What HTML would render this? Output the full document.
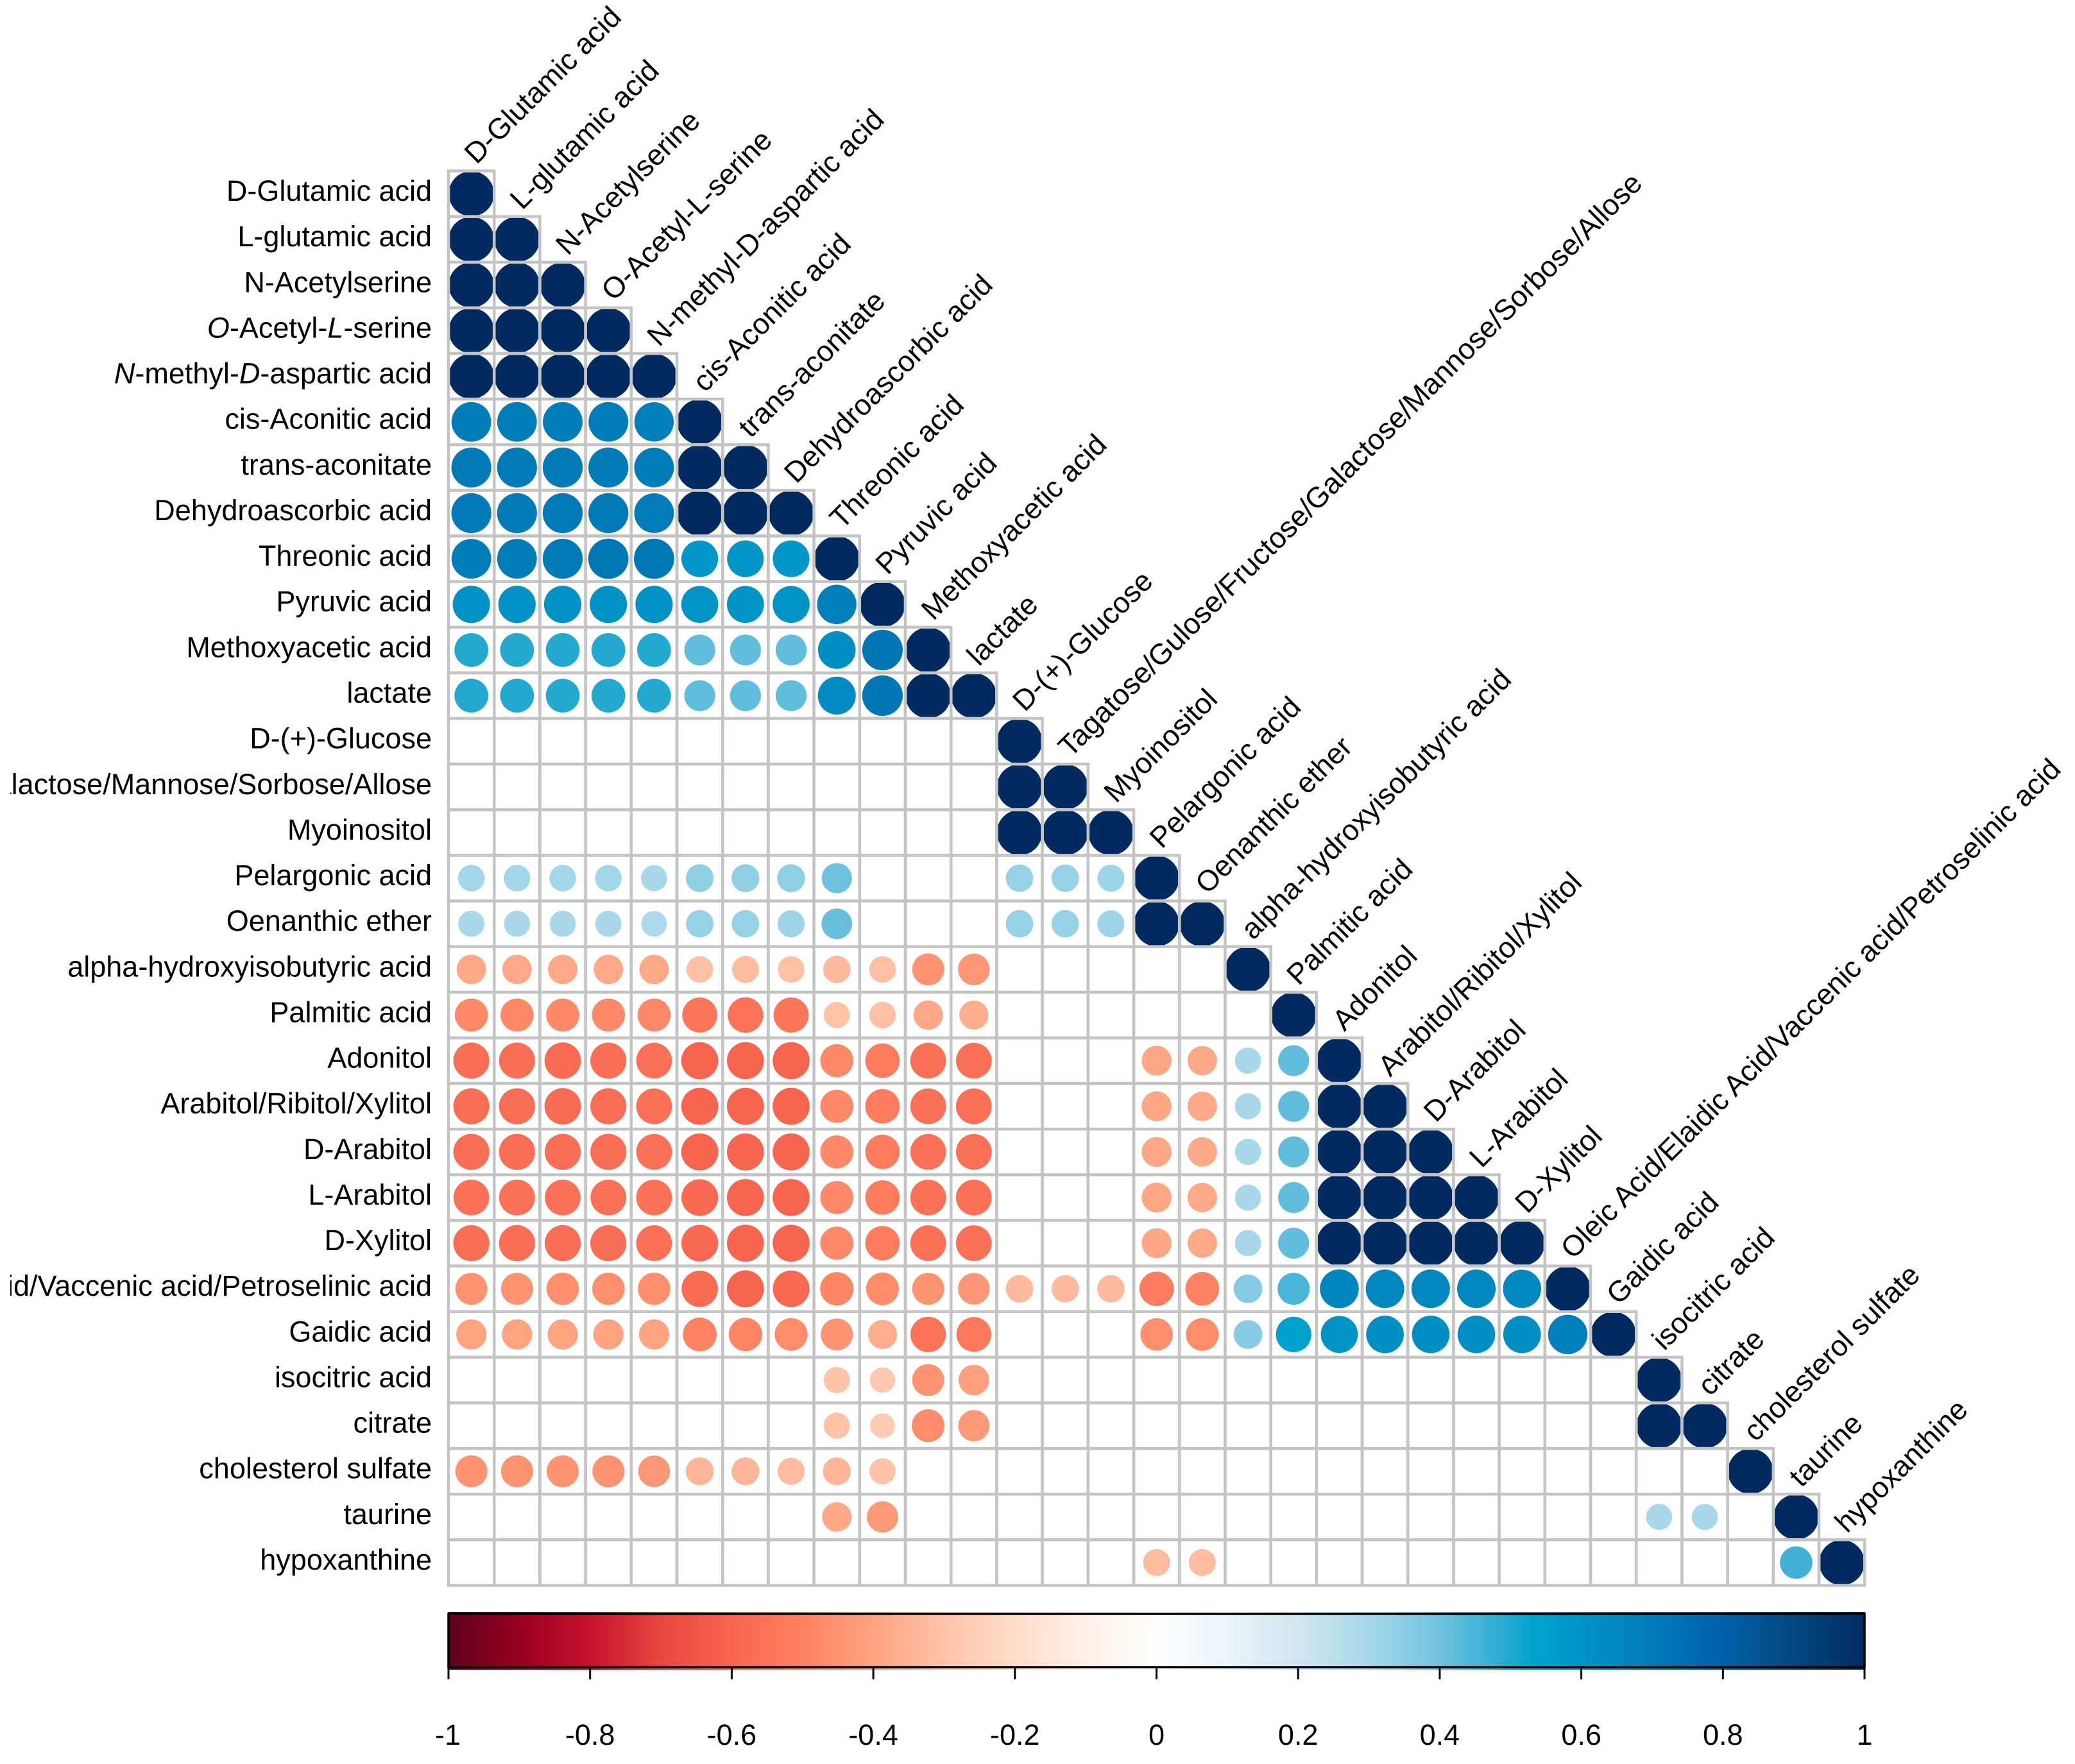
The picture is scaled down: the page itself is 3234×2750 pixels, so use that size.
<!DOCTYPE html>
<html lang="en">
<head>
<meta charset="utf-8">
<title>Metabolite correlation matrix</title>
<style>
html,body{margin:0;padding:0;background:#fff;}
#chart{display:block;width:3234px;height:2750px;}
text{font-family:"Liberation Sans",Arial,sans-serif;font-size:45px;fill:#000;}
#rowLabels text{font-size:45px;}
#colLabels text{font-size:45.4px;}
</style>
</head>
<body>
<svg id="chart" xmlns="http://www.w3.org/2000/svg" width="3234" height="2750" viewBox="0 0 3234 2750">
  <defs>
    <linearGradient id="legendGradient" x1="0" y1="0" x2="1" y2="0"></linearGradient>
    <clipPath id="rowLabelClip"><rect x="16" y="0" width="700" height="2750"></rect></clipPath>
  </defs>
  <g id="circles"></g>
  <g id="grid"></g>
  <g id="rowLabels" clip-path="url(#rowLabelClip)"></g>
  <g id="colLabels"></g>
  <g id="legend"></g>
</svg>
<script>
// Row labels: segments between | characters are italic.
const rowNames = [
"D-Glutamic acid","L-glutamic acid","N-Acetylserine","|O|-Acetyl-|L|-serine","|N|-methyl-|D|-aspartic acid",
"cis-Aconitic acid","trans-aconitate","Dehydroascorbic acid","Threonic acid","Pyruvic acid",
"Methoxyacetic acid","lactate","D-(+)-Glucose","Tagatose/Gulose/Fructose/Galactose/Mannose/Sorbose/Allose","Myoinositol",
"Pelargonic acid","Oenanthic ether","alpha-hydroxyisobutyric acid","Palmitic acid","Adonitol",
"Arabitol/Ribitol/Xylitol","D-Arabitol","L-Arabitol","D-Xylitol","Oleic Acid/Elaidic Acid/Vaccenic acid/Petroselinic acid",
"Gaidic acid","isocitric acid","citrate","cholesterol sulfate","taurine","hypoxanthine"];
const colNames = [
"D-Glutamic acid","L-glutamic acid","N-Acetylserine","O-Acetyl-L-serine","N-methyl-D-aspartic acid",
"cis-Aconitic acid","trans-aconitate","Dehydroascorbic acid","Threonic acid","Pyruvic acid",
"Methoxyacetic acid","lactate","D-(+)-Glucose","Tagatose/Gulose/Fructose/Galactose/Mannose/Sorbose/Allose","Myoinositol",
"Pelargonic acid","Oenanthic ether","alpha-hydroxyisobutyric acid","Palmitic acid","Adonitol",
"Arabitol/Ribitol/Xylitol","D-Arabitol","L-Arabitol","D-Xylitol","Oleic Acid/Elaidic Acid/Vaccenic acid/Petroselinic acid",
"Gaidic acid","isocitric acid","citrate","cholesterol sulfate","taurine","hypoxanthine"];

// Lower-triangular correlation values (0 = not significant, left blank).
const correlations = [
[1],
[1,1],
[1,1,1],
[1,1,1,1],
[1,1,1,1,1],
[.69,.69,.69,.69,.68,1],
[.70,.70,.70,.70,.69,1,1],
[.70,.70,.70,.70,.69,1,1,1],
[.69,.69,.70,.71,.71,.59,.59,.59,1],
[.61,.61,.61,.61,.61,.60,.60,.60,.68,1],
[.50,.50,.50,.50,.50,.42,.42,.42,.62,.72,1],
[.50,.50,.50,.50,.50,.42,.42,.42,.63,.72,1,1],
[0,0,0,0,0,0,0,0,0,0,0,0,1],
[0,0,0,0,0,0,0,0,0,0,0,0,1,1],
[0,0,0,0,0,0,0,0,0,0,0,0,1,1,1],
[.31,.31,.31,.31,.30,.34,.34,.34,.40,0,0,0,.33,.33,.32,1],
[.30,.30,.30,.30,.29,.33,.33,.32,.41,0,0,0,.33,.33,.32,1,1],
[-.38,-.38,-.38,-.38,-.38,-.31,-.32,-.31,-.33,-.31,-.45,-.44,0,0,0,0,0,1],
[-.48,-.48,-.48,-.48,-.48,-.54,-.55,-.54,-.30,-.31,-.38,-.37,0,0,0,0,0,0,1],
[-.57,-.57,-.58,-.57,-.56,-.60,-.60,-.60,-.48,-.52,-.56,-.56,0,0,0,-.39,-.38,.30,.42,1],
[-.57,-.57,-.58,-.57,-.56,-.60,-.60,-.60,-.48,-.52,-.56,-.56,0,0,0,-.39,-.38,.30,.42,1,1],
[-.57,-.57,-.57,-.57,-.56,-.60,-.60,-.60,-.48,-.52,-.56,-.56,0,0,0,-.39,-.38,.30,.42,1,1,1],
[-.56,-.56,-.56,-.56,-.56,-.59,-.60,-.60,-.48,-.52,-.56,-.56,0,0,0,-.39,-.38,.30,.42,1,1,1,1],
[-.57,-.57,-.57,-.57,-.56,-.59,-.60,-.60,-.48,-.52,-.56,-.56,0,0,0,-.39,-.38,.30,.42,1,1,1,1,1],
[-.45,-.45,-.46,-.46,-.46,-.58,-.60,-.59,-.49,-.47,-.45,-.44,-.33,-.33,-.33,-.52,-.50,.36,.45,.66,.65,.65,.65,.64,1],
[-.40,-.40,-.40,-.40,-.40,-.50,-.49,-.47,-.45,-.37,-.55,-.53,0,0,0,-.46,-.47,.36,.55,.60,.62,.62,.62,.62,.68,1],
[0,0,0,0,0,0,0,0,-.30,-.28,-.45,-.41,0,0,0,0,0,0,0,0,0,0,0,0,0,0,1],
[0,0,0,0,0,0,0,0,-.30,-.27,-.47,-.43,0,0,0,0,0,0,0,0,0,0,0,0,0,0,1,1],
[-.45,-.45,-.45,-.45,-.44,-.34,-.34,-.32,-.34,-.30,0,0,0,0,0,0,0,0,0,0,0,0,0,0,0,0,0,0,1],
[0,0,0,0,0,0,0,0,-.38,-.43,0,0,0,0,0,0,0,0,0,0,0,0,0,0,0,0,.30,.30,0,1],
[0,0,0,0,0,0,0,0,0,0,0,0,0,0,0,-.32,-.32,0,0,0,0,0,0,0,0,0,0,0,0,.46,1]
];

// Colour-bar tick labels and palette.
const legendTicks = [-1,-0.8,-0.6,-0.4,-0.2,0,0.2,0.4,0.6,0.8,1];
const paletteValues = [-1,-.9,-.8,-.7,-.6,-.5,-.4,-.3,-.2,-.1,0,.1,.2,.3,.4,.5,.53,.6,.7,.8,.9,1];
const paletteColors = ["#5E0020","#96001E","#C8102E","#E8473F","#F8654F","#FF8262","#FFA381","#FFC3A8","#FFDDC9","#FFF0E7","#FFFFFF","#EAF4F9","#D0E6F0","#A8D8EA","#6FC2DE","#23A8D0","#00A5CE","#0093C6","#007BB8","#0060A8","#03477F","#012B60"];

const NS = "http://www.w3.org/2000/svg";
const gridLeft = 699, gridTop = 266.5, cellW = 71.2, cellH = 71.13;
const legendLeft = 699, legendRight = 2906;

function xEdge(col){ return gridLeft + col * cellW; }
function yEdge(row){ return gridTop + row * cellH; }
function xCenter(col){ return xEdge(col) + cellW / 2; }
function yCenter(row){ return yEdge(row) + cellH / 2; }
function legendX(v){ return legendLeft + (v + 1) / 2 * (legendRight - legendLeft); }
function diameter(v){ return Math.min(70.6, 74.5 * Math.sqrt(Math.abs(v))); }
function hexToRgb(h){ return [1,3,5].map(i => parseInt(h.substr(i,2),16)); }
function colorOf(v){
  const c = Math.max(-1, Math.min(1, v));
  for (let i = 0; i < paletteValues.length - 1; i++) {
    if (c <= paletteValues[i + 1]) {
      const t = (c - paletteValues[i]) / (paletteValues[i + 1] - paletteValues[i]);
      const a = hexToRgb(paletteColors[i]), b = hexToRgb(paletteColors[i + 1]);
      return "rgb(" + a.map((x, k) => Math.round(x + (b[k] - x) * t)).join(",") + ")";
    }
  }
  return paletteColors[paletteColors.length - 1];
}
function make(tag, attrs, parent){
  const el = document.createElementNS(NS, tag);
  for (const k in attrs) el.setAttribute(k, attrs[k]);
  parent.appendChild(el);
  return el;
}

const circlesG = document.getElementById("circles");
const gridG = document.getElementById("grid");
const rowG = document.getElementById("rowLabels");
const colG = document.getElementById("colLabels");
const legendG = document.getElementById("legend");

correlations.forEach((row, i) => {
  row.forEach((v, j) => {
    if (v !== 0) {
      const d = diameter(v);
      const circle = make("circle", {cx: xCenter(j), cy: yCenter(i), r: d / 2, fill: colorOf(v)}, circlesG);
      
      
      if (d > 67) circle.style.clipPath = "inset(" + ((d - 67) / 2) + "px)";
    }
  });
  for (let j = 0; j <= i; j++) {
    const cell = make("rect", {x: xEdge(j), y: yEdge(i), width: cellW, height: cellH, fill: "none", stroke: "#C4C4C4", "stroke-width": 4.5}, gridG);
    
    
  }
});

rowNames.forEach((name, i) => {
  const label = make("text", {x: 673, y: yCenter(i) + 11, "text-anchor": "end"}, rowG);
  
  
  name.split("|").forEach((part, k) => {
    if (!part) return;
    const span = make("tspan", k % 2 ? {"font-style": "italic"} : {}, label);
    span.textContent = part;
  });
});

colNames.forEach((name, j) => {
  const x = xCenter(j) + 8, y = yEdge(j) - 9;
  const label = make("text", {x: x, y: y, transform: "rotate(-45 " + x + " " + y + ")"}, colG);
  
  
  label.textContent = name;
});

// Colour legend
const gradient = document.getElementById("legendGradient");
paletteValues.forEach((v, i) => {
  make("stop", {offset: (v + 1) / 2, "stop-color": paletteColors[i]}, gradient);
});
const bar = make("rect", {x: legendX(-1) - 1, y: 2513, width: legendX(1) - legendX(-1) + 2, height: 90, fill: "url(#legendGradient)"}, legendG);


const frame = make("rect", {x: legendX(-1), y: 2516, width: legendX(1) - legendX(-1), height: 83, fill: "none", stroke: "#000", "stroke-width": 3.5}, legendG);


legendTicks.forEach(t => {
  const tick = make("line", {x1: legendX(t), x2: legendX(t), y1: 2600, y2: 2618, stroke: "#000", "stroke-width": 3}, legendG);
  
  
  const label = make("text", {x: legendX(t) - (t === -1 ? 1 : 0), y: 2720, "text-anchor": "middle"}, legendG);
  
  
  label.textContent = String(t);
});
</script>
</body>
</html>
